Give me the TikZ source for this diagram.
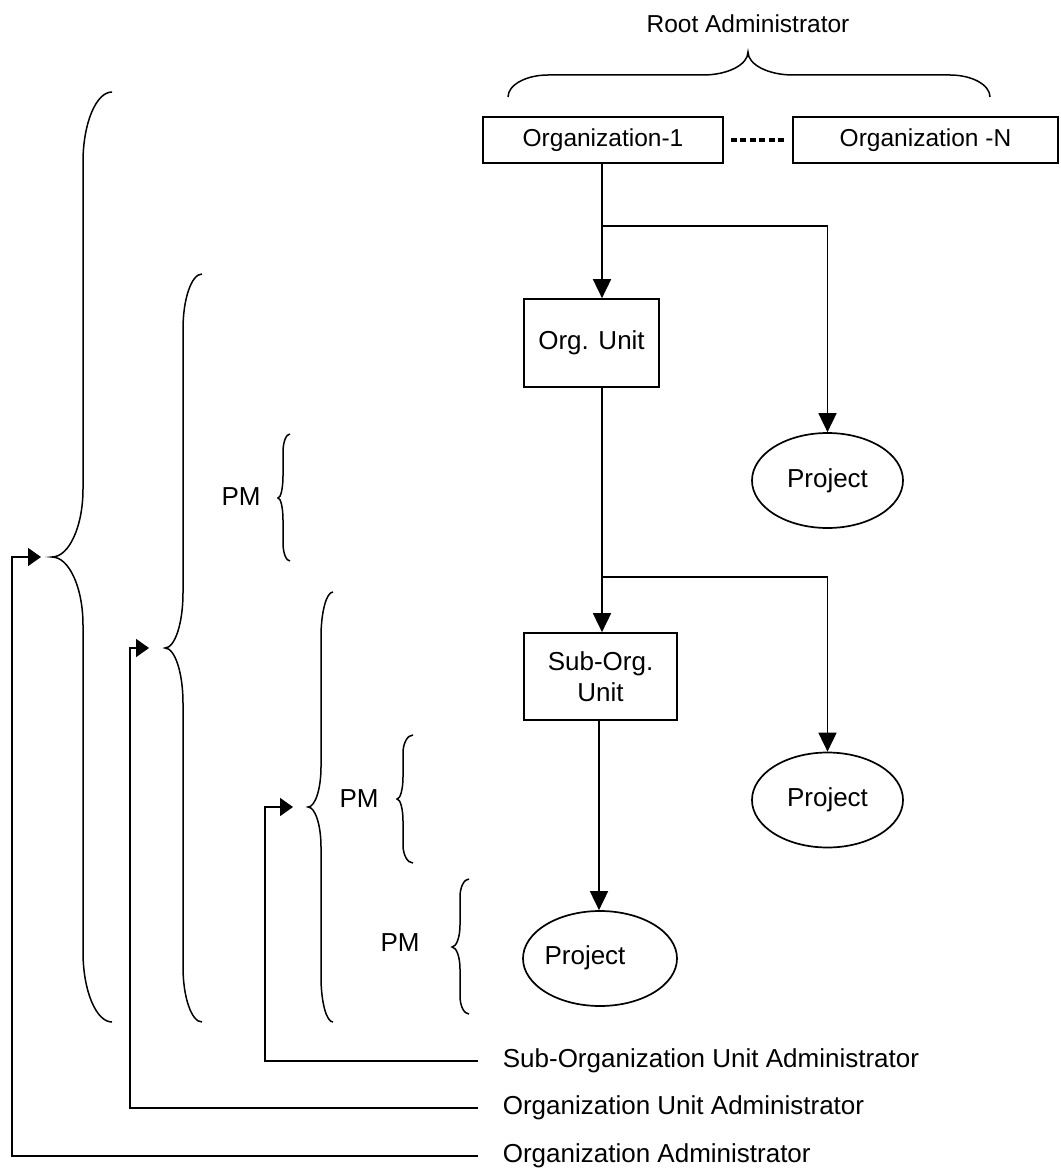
\documentclass[tikz,border=0pt]{standalone}
\usepackage{fontspec}
\setmainfont{Liberation Sans}
\usetikzlibrary{arrows.meta,shapes.geometric}
% left-facing brace: #1 xe, #2 xv, #3 xt, #4 ytop, #5 ymid, #6 ybot, #7 end curve height, #8 tip curve height
\newcommand{\Lbrace}[8]{%
\draw[brc] (#1,#4) .. controls ({#2+0.45*(#1-#2)},#4) and (#2,{#4+0.45*#7}) .. (#2,{#4+#7})
 -- (#2,{#5-#8}) .. controls (#2,{#5-0.45*#8}) and ({#3+0.55*(#2-#3)},#5) .. (#3,#5)
 .. controls ({#3+0.55*(#2-#3)},#5) and (#2,{#5+0.45*#8}) .. (#2,{#5+#8})
 -- (#2,{#6-#7}) .. controls (#2,{#6-0.45*#7}) and ({#2+0.45*(#1-#2)},#6) .. (#1,#6);}
\begin{document}
\begin{tikzpicture}[x=1pt,y=-1pt, line width=1.7pt,
  every node/.style={font=\fontsize{26}{31}\selectfont, inner sep=0pt},
  small/.style={font=\fontsize{24.5}{29}\selectfont},
  box/.style={draw, rectangle, line width=1.7pt, align=center},
  proj/.style={draw, ellipse, line width=1.7pt, minimum width=151pt, minimum height=95pt},
  arr/.style={-{Triangle[length=19pt,width=18pt]}},
  sarr/.style={-{Triangle[length=13pt,width=18pt]}},
  brc/.style={line width=1.5pt},
  dotline/.style={line width=4.5pt, dash pattern=on 6pt off 3.5pt}]
\useasboundingbox (0,0) rectangle (1060,1169);
\fill[white] (0,0) rectangle (1060,1169);

% top nodes
\node[small] (root) at (748,24) {Root Administrator};
\node[box, small, minimum width=240pt, minimum height=46pt] (org1) at (603,140) {Organization-1};
\node[box, small, minimum width=265pt, minimum height=46pt] (orgN) at (925.5,140) {Organization -N};
\draw[dotline] ([xshift=7pt]org1.east) -- ([xshift=-7pt]orgN.west);

% top brace
\draw[brc] (508,97) .. controls (508,{97-0.55*22}) and ({548-0.55*40},75) .. (548,75)
  -- (703,75) .. controls ({703+0.55*45},75) and (748,{52+0.55*23}) .. (748,52)
  .. controls (748,{52+0.55*23}) and ({793-0.55*45},75) .. (793,75)
  -- (950,75) .. controls ({950+0.55*40},75) and (990,{97-0.55*22}) .. (990,97);

% units
\node[box, minimum width=135pt, minimum height=88pt] (ou) at (591.5,343) {Org. Unit};
\node[box, minimum width=153pt, minimum height=87pt] (sou) at (600.5,676.5) {Sub-Org.\\Unit};
\node[proj] (p1) at (827.5,480.5) {Project};
\node[proj] (p2) at (827.5,800) {Project};
\node[proj, minimum width=154pt] (p3) at (600,958.5) {};
\node (p3t) at (585,958) {Project};

% connectors
\coordinate (t) at (602,0);
\coordinate (b1) at (602,226);
\coordinate (b2) at (602,577);
\draw[arr] (t |- org1.south) -- (t |- ou.north);
\draw[arr] (b1) -- (b1 -| p1.north) -- (p1.north);
\draw[arr] (t |- ou.south) -- (t |- sou.north);
\draw[arr] (b2) -- (b2 -| p2.north) -- (p2.north);
\coordinate (t2) at (599,0);
\draw[arr] (t2 |- sou.south) -- (t2 |- p3.north);

% large braces
\Lbrace{112}{83}{52}{92}{557}{1022}{70}{68}
\Lbrace{202}{183}{165}{274}{648}{1022}{55}{55}
\Lbrace{333}{321}{308}{592}{807}{1022}{45}{40}

% PM braces
\Lbrace{290}{283}{278}{434}{498}{561}{18}{22}
\Lbrace{413}{403}{397}{735}{799}{863}{18}{22}
\Lbrace{469}{460}{452}{879}{947}{1014}{18}{22}
\node (pm1) at (241,497) {PM};
\node (pm2) at (359,799) {PM};
\node (pm3) at (400,943) {PM};

% administrators
\node[anchor=west] (a3) at (502,1061) {Sub-Organization Unit Administrator};
\node[anchor=west] (a2) at (502,1108) {Organization Unit Administrator};
\node[anchor=west] (a1) at (502,1156) {Organization Administrator};
\coordinate (e3) at (293,807);
\coordinate (e2) at (149,648);
\coordinate (e1) at (41,557);
\draw[sarr] ([xshift=-24pt]a3.west) -| (265,807) -- (e3);
\draw[sarr] ([xshift=-24pt]a2.west) -| (130,648) -- (e2);
\draw[sarr] ([xshift=-24pt]a1.west) -| (12,557) -- (e1);
\end{tikzpicture}
\end{document}
